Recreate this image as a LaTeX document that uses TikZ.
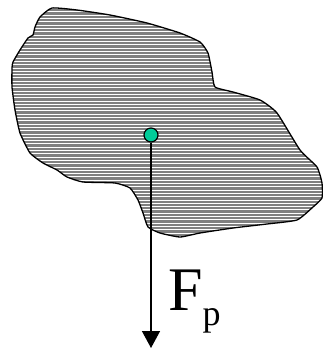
\documentclass[tikz,border=0pt]{standalone}
\usepackage{fontspec}
\setmainfont{Liberation Serif}
\usetikzlibrary{arrows.meta, positioning}

\definecolor{cgcolor}{HTML}{00CC99}
\definecolor{bodygray}{HTML}{808080}

\begin{document}
\begin{tikzpicture}[
    x=1pt, y=-1pt,
    %% body styles
    outline/.style={draw=black, line width=1.3pt, line join=round},
    hatch/.style={draw=white, line width=0.9pt},
    %% point and force styles
    cgdot/.style={circle, draw=black, line width=1.2pt, fill=cgcolor,
        minimum size=14pt, inner sep=0pt},
    force/.style={-{Triangle[width=18pt, length=17pt]}, line width=1.5pt},
    lbl/.style={inner sep=0pt, anchor=base west}
]
    \useasboundingbox (0,0) rectangle (323,350);

    %% --- body outline -----------------------------------------
    \def\bodypath{plot[smooth cycle, tension=0.3] coordinates {
        (52,8) (77,10) (110,15) (147,23) (180,33) (200,42) (208,53)
        (212,72) (215,87) (233,92) (260,100) (277,113) (300,150)
        (317,167) (322,183) (322,198) (313,207) (297,220) (267,224)
        (233,228) (200,233) (180,237) (160,233) (148,227) (143,213)
        (138,200) (130,188) (115,183) (83,182) (67,177) (57,170)
        (43,163) (30,153) (20,133) (15,110) (12,87) (12,68) (13,62)
        (20,50) (28,38) (33,35) (35,27) (40,17)}}

    \begin{scope}
        \clip \bodypath;
        \fill[bodygray] (0,0) rectangle (323,240);
        \foreach \y in {2,5.3,...,240}
            \draw[hatch] (0,\y) -- (323,\y);
    \end{scope}
    \draw[outline] \bodypath;

    %% --- centre of gravity and weight -------------------------
    \coordinate (tip) at (151,348);
    \node[cgdot] (cg) at (151,135) {};
    \draw[force] (cg) -- (tip);

    \node[lbl] (fp) at (168,310)
        {\fontsize{62}{62}\selectfont F\raisebox{-15pt}{\fontsize{36}{36}\selectfont p}};

\end{tikzpicture}
\end{document}
